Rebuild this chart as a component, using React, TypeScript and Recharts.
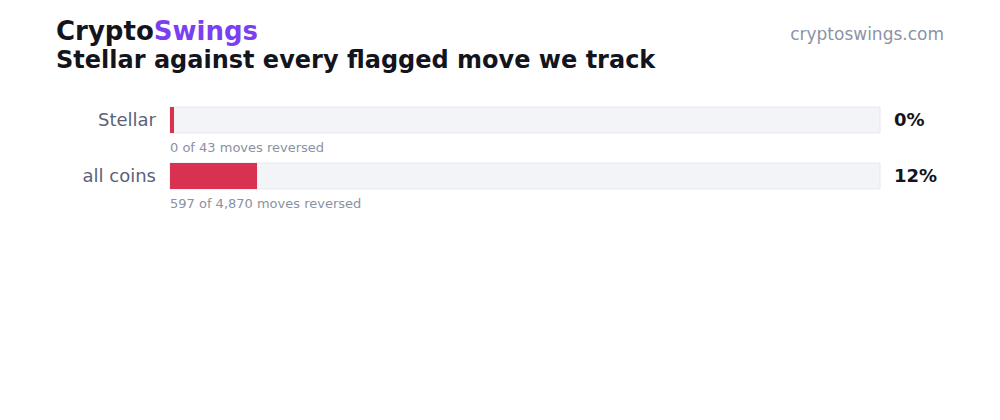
import { Bar, BarChart, XAxis, YAxis } from "recharts";

const coins = ["Stellar", "all coins"];
const reversedMoves = [0, 597];
const totalMoves = [43, 4870];

const rows = coins.map((coin, i) => ({
  coin,
  reversed: reversedMoves[i],
  total: totalMoves[i],
  rate: (reversedMoves[i] / totalMoves[i]) * 100,
}));

const FONT = "'DejaVu Sans', Verdana, sans-serif";

function LeftTick(props: any) {
  const { y, payload } = props;
  const row = rows[payload.index];
  return (
    <g>
      <text x={156} y={y} dy={6} textAnchor="end" fill="#5b6278" fontSize={18} fontFamily={FONT}>
        {payload.value}
      </text>
      <text x={170} y={y + 32} textAnchor="start" fill="#8b91a3" fontSize={13} fontFamily={FONT}>
        {`${row.reversed.toLocaleString("en-US")} of ${row.total.toLocaleString("en-US")} moves reversed`}
      </text>
    </g>
  );
}

function RightTick(props: any) {
  const { y, payload } = props;
  const row = rows[payload.index];
  return (
    <text x={894} y={y} dy={6} textAnchor="start" fill="#14151c" fontSize={18} fontWeight={700} fontFamily={FONT}>
      {`${Math.round(row.rate)}%`}
    </text>
  );
}

export default function App() {
  return (
    <div style={{ position: "fixed", left: 0, top: 0, width: 1000, height: 420, background: "#fff", fontFamily: FONT }}>
      <div style={{ position: "absolute", left: 56, top: 14, fontSize: 26, fontWeight: 700, color: "#14151c", lineHeight: "34px" }}>
        Crypto<span style={{ color: "#7b3ff2" }}>Swings</span>
      </div>
      <div style={{ position: "absolute", left: 56, top: 45, fontSize: 24, fontWeight: 700, color: "#14151c", lineHeight: "30px" }}>
        Stellar against every flagged move we track
      </div>
      <div style={{ position: "absolute", right: 56, top: 22, fontSize: 17, color: "#8b93a7", lineHeight: "24px" }}>
        cryptoswings.com
      </div>
      <div style={{ position: "absolute", left: 0, top: 0 }}>
        <BarChart
          width={1000}
          height={420}
          data={rows}
          layout="vertical"
          margin={{ top: 92, right: 0, bottom: 216, left: 0 }}
        >
          <XAxis type="number" domain={[0, 100]} hide />
          <YAxis
            yAxisId="left"
            type="category"
            dataKey="coin"
            width={170}
            axisLine={false}
            tickLine={false}
            tick={<LeftTick />}
          />
          <YAxis
            yAxisId="right"
            orientation="right"
            type="category"
            dataKey="coin"
            width={120}
            axisLine={false}
            tickLine={false}
            tick={<RightTick />}
          />
          <Bar
            yAxisId="left"
            dataKey="rate"
            barSize={26}
            fill="#d93250"
            minPointSize={4}
            background={{ fill: "#f3f4f8", stroke: "#e7e9f2", strokeWidth: 1 }}
            isAnimationActive={false}
          />
        </BarChart>
      </div>
    </div>
  );
}
